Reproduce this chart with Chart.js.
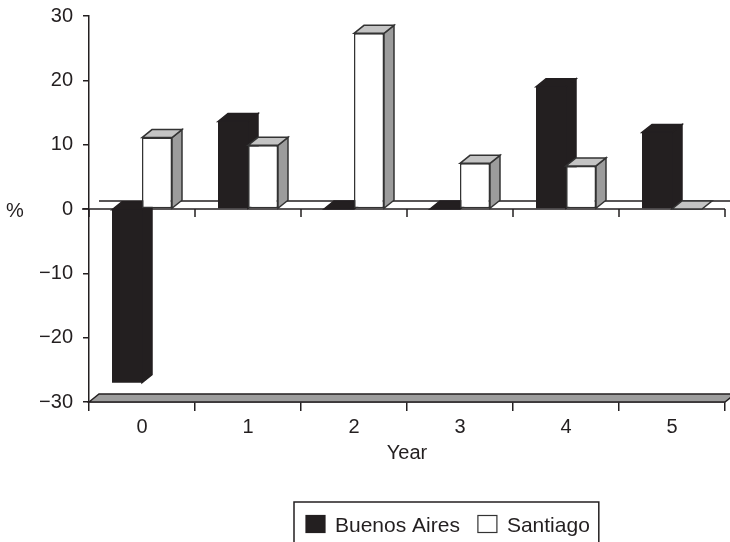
<!DOCTYPE html>
<html><head><meta charset="utf-8">
<script src="https://cdn.jsdelivr.net/npm/chart.js@4/dist/chart.umd.min.js"></script>
<style>html,body{margin:0;padding:0;background:#fff}canvas{display:block}</style>
</head><body>
<canvas id="c" width="730" height="542"></canvas>
<script>
// ---- data ----
const years = ['0', '1', '2', '3', '4', '5'];
const buenosAires = [-27.0, 13.6, 0, 0, 19.0, 11.9];
const santiago = [11.1, 9.9, 27.3, 7.1, 6.7, 0];
const yTickValues = [-30, -20, -10, 0, 10, 20, 30];
const seriesNames = ['Buenos Aires', 'Santiago'];
const yUnit = '%';
const xTitle = 'Year';

// ---- style ----
const INK = '#231f20';
const FONT = '"Liberation Sans", Arial, Helvetica, sans-serif';
const DX = 10, DY = -8; // 3D depth offset

const faceStyles = [
  { top: INK, side: INK, stroke: INK },
  { top: '#c4c4c4', side: '#9c9c9c', stroke: '#333' }
];

function poly(ctx, pts, fill, stroke) {
  ctx.beginPath();
  ctx.moveTo(pts[0][0], pts[0][1]);
  for (let i = 1; i < pts.length; i++) ctx.lineTo(pts[i][0], pts[i][1]);
  ctx.closePath();
  if (fill) { ctx.fillStyle = fill; ctx.fill(); }
  if (stroke) { ctx.strokeStyle = stroke; ctx.lineWidth = 1.5; ctx.stroke(); }
}

function drawFaces(chart, dsIndex) {
  const ctx = chart.ctx;
  const st = faceStyles[dsIndex];
  const meta = chart.getDatasetMeta(dsIndex);
  ctx.save();
  ctx.lineJoin = 'miter';
  meta.data.forEach(el => {
    const p = el.getProps(['x', 'y', 'base', 'width'], true);
    const l = p.x - p.width / 2, r = p.x + p.width / 2;
    const top = Math.min(p.y, p.base), bot = Math.max(p.y, p.base);
    if (bot - top > 0.5) {
      poly(ctx, [[r, top], [r + DX, top + DY], [r + DX, bot + DY], [r, bot]], st.side, st.stroke);
    }
    poly(ctx, [[l, top], [l + DX, top + DY], [r + DX, top + DY], [r, top]], st.top, st.stroke);
  });
  ctx.restore();
}

const threeD = {
  id: 'threeD',
  beforeDatasetsDraw(chart) {
    const ctx = chart.ctx;
    const ys = chart.scales.y;
    const x0 = chart.chartArea.left, x1 = chart.chartArea.right;
    const n = chart.data.labels.length;
    const yF = ys.getPixelForValue(ys.min);
    const yZ = ys.getPixelForValue(0);
    ctx.save();
    // floor
    poly(ctx, [[x0, yF], [x0 + DX, yF + DY], [x1 + DX, yF + DY], [x1, yF]], '#9d9d9d', INK);
    // zero plane
    poly(ctx, [[x0, yZ], [x0 + DX, yZ + DY], [x1 + DX, yZ + DY], [x1, yZ]], '#fff', null);
    ctx.strokeStyle = INK; ctx.lineWidth = 1.5;
    ctx.beginPath();
    ctx.moveTo(x0 - 7, yZ); ctx.lineTo(x1, yZ);
    ctx.moveTo(x0 + DX, yZ + DY); ctx.lineTo(x1 + DX, yZ + DY);
    for (let i = 0; i <= n; i++) {
      const xx = x0 + i * (x1 - x0) / n;
      ctx.moveTo(xx, yZ); ctx.lineTo(xx, yZ + 8);
    }
    ctx.stroke();
    ctx.restore();
    // side/top faces of first series (occluded by second series fronts)
    drawFaces(chart, 0);
  },
  afterDatasetsDraw(chart) {
    drawFaces(chart, 1);
  },
  afterDraw(chart) {
    const ctx = chart.ctx;
    const ys = chart.scales.y;
    ctx.save();
    ctx.font = '20px ' + FONT;
    ctx.fillStyle = INK;
    ctx.textBaseline = 'alphabetic';
    ctx.textAlign = 'left';
    ctx.fillText(yUnit, 6, ys.getPixelForValue(0) + 7.5);
    // legend
    ctx.font = '21px ' + FONT;
    const items = chart.data.datasets.map(ds => ({ label: ds.label, fill: ds.backgroundColor, stroke: ds.legendStroke }));
    const box = 19, boxH = 17, gapT = 10, gapI = 18, padL = 12, padR = 9;
    let w = padL + padR;
    items.forEach((it, i) => { it.tw = ctx.measureText(it.label).width; w += box + gapT + it.tw + (i ? gapI : 0); });
    const cx = 446, topY = 502;
    let x = Math.round(cx - w / 2);
    ctx.strokeStyle = INK; ctx.lineWidth = 1.5;
    ctx.strokeRect(x, topY, w, 60);
    x += padL;
    const baseY = topY + 30;
    items.forEach(it => {
      ctx.fillStyle = it.fill;
      ctx.fillRect(x, topY + 13.5, box, boxH);
      ctx.strokeStyle = it.stroke; ctx.lineWidth = 1.2;
      ctx.strokeRect(x, topY + 13.5, box, boxH);
      ctx.fillStyle = INK;
      ctx.fillText(it.label, x + box + gapT, baseY);
      x += box + gapT + it.tw + gapI;
    });
    ctx.restore();
  }
};

new Chart(document.getElementById('c'), {
  type: 'bar',
  data: {
    labels: years,
    datasets: [
      { label: seriesNames[0], data: buenosAires, backgroundColor: INK, borderColor: INK, borderWidth: 0, legendStroke: INK },
      { label: seriesNames[1], data: santiago, backgroundColor: '#ffffff', borderColor: '#333', borderWidth: 1.5, borderSkipped: false, legendStroke: '#333' }
    ]
  },
  options: {
    responsive: false,
    devicePixelRatio: 1,
    animation: false,
    events: [],
    datasets: { bar: { barPercentage: 1, categoryPercentage: 0.566 } },
    layout: { padding: { top: 16, right: 5, bottom: 70, left: 0 } },
    plugins: { legend: { display: false }, tooltip: { enabled: false } },
    scales: {
      x: {
        offset: true,
        grid: { display: true, drawOnChartArea: false, drawTicks: true, tickLength: 9, color: INK, lineWidth: 1.5, offset: true },
        border: { display: true, color: INK, width: 1.5 },
        ticks: { color: INK, font: { family: FONT, size: 20 }, padding: 4, maxRotation: 0 },
        title: { display: true, text: xTitle, color: INK, font: { family: FONT, size: 20 }, padding: { top: 0, bottom: 7 } },
        afterFit(s) { s.height = 70; s.paddingLeft = 0; s.paddingRight = 0; }
      },
      y: {
        min: -30, max: 30,
        afterBuildTicks(s) { s.ticks = yTickValues.map(v => ({ value: v })); },
        grid: { display: true, drawOnChartArea: false, drawTicks: true, tickLength: 6, color: INK, lineWidth: 1.5 },
        border: { display: true, color: INK, width: 1.5 },
        ticks: { color: INK, font: { family: FONT, size: 20 }, padding: 10,
          callback: v => (v < 0 ? '\u2212' + Math.abs(v) : String(v)) },
        afterFit(s) { s.width = 89; s.paddingTop = 0; s.paddingBottom = 0; }
      }
    }
  },
  plugins: [threeD]
});
</script>
</body></html>
